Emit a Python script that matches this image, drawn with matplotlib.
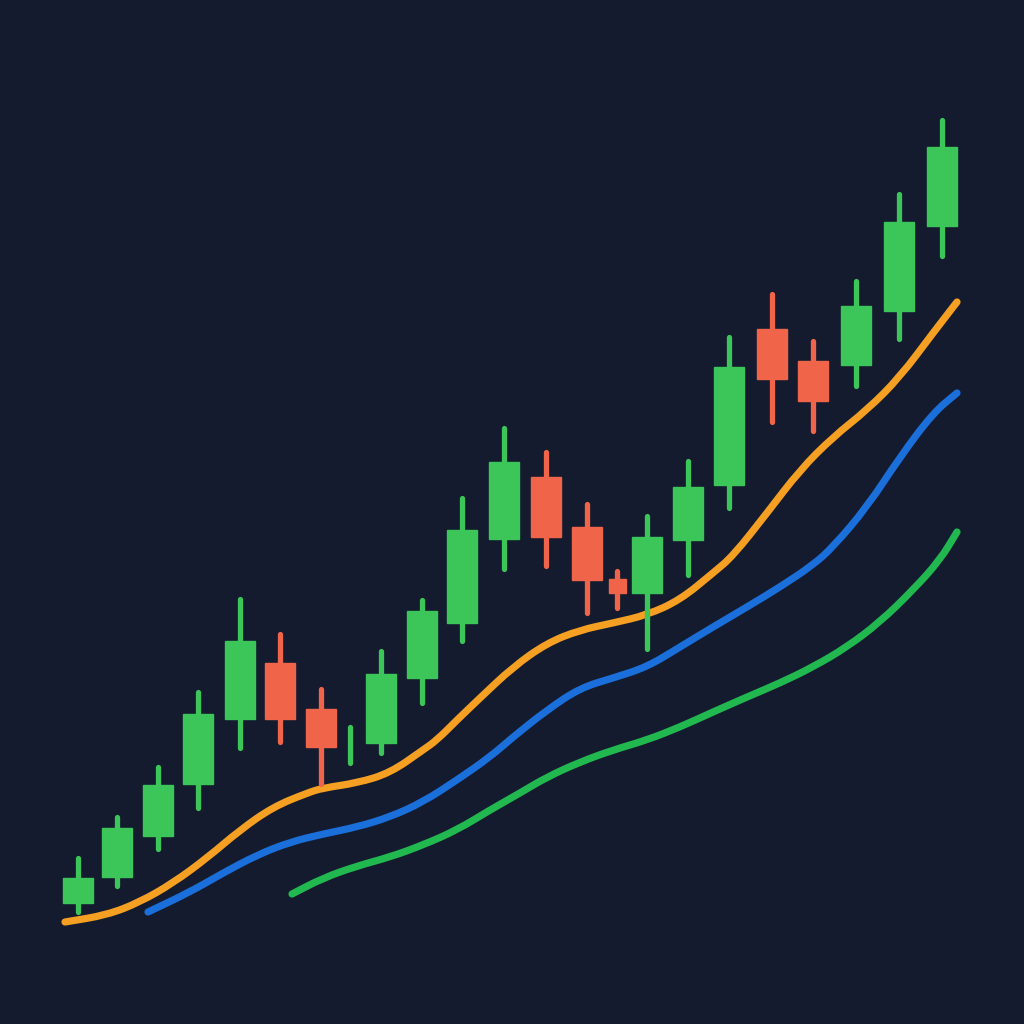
import matplotlib
import matplotlib.pyplot as plt
from matplotlib.path import Path
from matplotlib.patches import PathPatch

matplotlib.use("Agg")

# ローソク足データ（x位置, 始値, 高値, 安値, 終値）
candle_x = [78, 117, 158, 198, 240, 280, 321, 350, 381, 422, 462, 504,
            546, 587, 617, 647, 688, 729, 772, 813, 856, 899, 942]
opens = [121, 147, 188, 240, 305, 361, 315, 279, 281, 346, 401, 485,
         547, 497, 445, 431, 484, 539, 695, 663, 659, 713, 798]
highs = [166, 207, 257, 332, 425, 390, 335, 297, 373, 424, 526, 596,
         572, 520, 453, 508, 563, 687, 730, 683, 743, 830, 904]
lows = [112, 138, 175, 216, 276, 282, 240, 261, 271, 321, 383, 455,
        458, 411, 416, 375, 449, 516, 602, 593, 638, 685, 768]
closes = [146, 196, 239, 310, 383, 305, 277, 279, 350, 413, 494, 562,
          487, 444, 431, 487, 537, 657, 645, 623, 718, 802, 877]

# 移動平均線
ma_fast_x = [65, 107, 140, 173, 207, 240, 273, 307, 323, 357, 390, 423, 437, 457,
             480, 513, 547, 580, 613, 647, 680, 713, 733, 767, 800, 833, 867, 900,
             933, 957]
ma_fast_y = [102, 109, 122, 141, 166, 194, 217, 231, 236, 241, 251, 274, 284, 304,
             326, 357, 381, 394, 401, 409, 424, 451, 468, 511, 554, 587, 614, 647,
             691, 722]

ma_mid_x = [148, 190, 223, 257, 290, 323, 357, 390, 423, 457, 490, 513, 547, 580,
            613, 647, 680, 713, 747, 780, 813, 833, 867, 900, 933, 957]
ma_mid_y = [112, 132, 151, 169, 182, 190, 197, 207, 222, 244, 267, 287, 314, 336,
            346, 357, 377, 397, 417, 437, 459, 477, 517, 567, 611, 631]

ma_slow_x = [292, 323, 357, 390, 423, 457, 490, 520, 547, 580, 613, 647, 680, 713,
             747, 780, 813, 847, 880, 913, 940, 957]
ma_slow_y = [130, 146, 158, 167, 179, 194, 214, 231, 247, 262, 274, 284, 297, 312,
             327, 341, 357, 377, 402, 434, 464, 492]

BG = "#141b2e"
UP = "#3cc65a"
DOWN = "#f0654a"


def smooth_path(xs, ys):
    """点列を二次ベジェでなめらかにつなぐパス。"""
    pts = list(zip(xs, ys))
    verts = [pts[0]]
    codes = [Path.MOVETO]
    mids = [((a[0] + b[0]) / 2, (a[1] + b[1]) / 2) for a, b in zip(pts[:-1], pts[1:])]
    verts.append(mids[0])
    codes.append(Path.LINETO)
    for i in range(1, len(pts) - 1):
        verts += [pts[i], mids[i]]
        codes += [Path.CURVE3, Path.CURVE3]
    verts.append(pts[-1])
    codes.append(Path.LINETO)
    return Path(verts, codes)


fig = plt.figure(figsize=(10.24, 10.24), dpi=100)
fig.patch.set_facecolor(BG)
ax = fig.add_axes([0, 0, 1, 1])
ax.set_facecolor(BG)
ax.set_xlim(0, 1024)
ax.set_ylim(0, 1024)
ax.axis("off")

for xs, ys, color in [(ma_fast_x, ma_fast_y, "#f5a023"),
                      (ma_mid_x, ma_mid_y, "#1a6fdb"),
                      (ma_slow_x, ma_slow_y, "#22b850")]:
    patch = PathPatch(smooth_path(xs, ys), facecolor="none", edgecolor=color,
                      linewidth=5.2, capstyle="round", joinstyle="round", zorder=1)
    ax.add_patch(patch)

for i, x in enumerate(candle_x):
    color = UP if closes[i] >= opens[i] else DOWN
    ax.vlines(x, lows[i], highs[i], color=color, linewidth=3.8, capstyle="round", zorder=2)
    bottom = min(opens[i], closes[i])
    height = abs(closes[i] - opens[i])
    if height == 0:
        continue
    width = 17 if height < 20 else 30
    ax.bar(x, height, bottom=bottom, width=width, color=color,
           edgecolor=color, linewidth=1.0, zorder=3)

fig.savefig("out.png", dpi=100, facecolor=BG)
plt.close(fig)
